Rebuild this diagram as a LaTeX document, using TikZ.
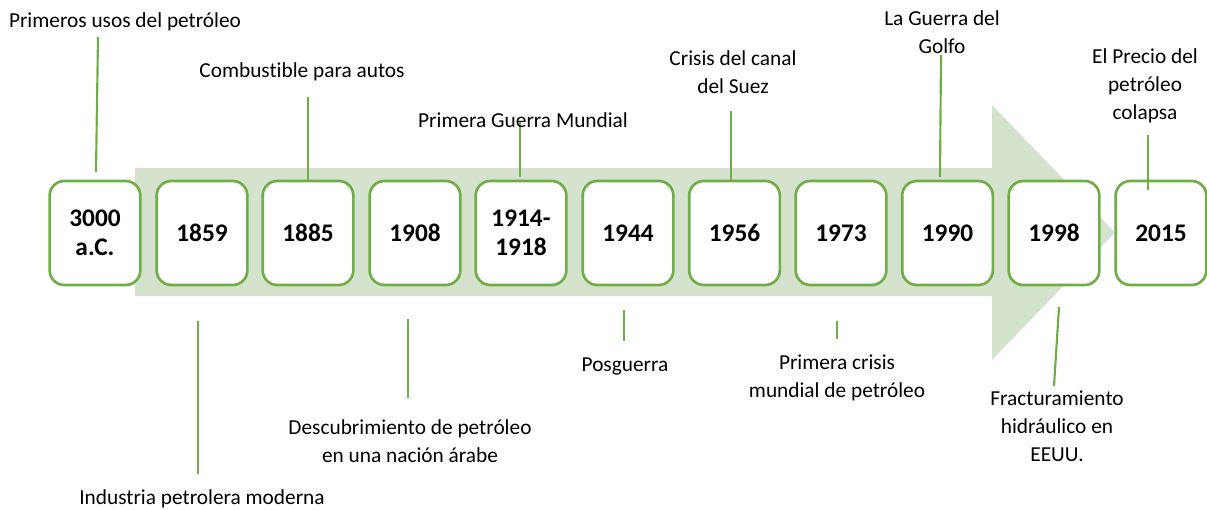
\documentclass[tikz,border=0pt]{standalone}
\usepackage{fontspec}
\setmainfont{Carlito}[Ligatures=NoCommon]

\definecolor{timeGreen}{RGB}{112,173,71}
\definecolor{arrowGreen}{RGB}{213,227,206}

\begin{document}
\begin{tikzpicture}[x=0.75pt, y=-0.75pt,
	yearBox/.style={draw=timeGreen, line width=2pt, fill=white, rounded corners=11pt, minimum width=68pt, minimum height=78pt, inner sep=0pt, align=center, font=\fontsize{19}{22}\selectfont\bfseries},
	event/.style={inner sep=0pt, align=center, font=\fontsize{16}{21}\selectfont},
	eventLine/.style={timeGreen, line width=1.6pt}]

	\useasboundingbox (0,0) rectangle (1207,510);

% Define coordinates.

	%arrow
	\coordinate (arrowTail) at (135,168);
	\coordinate (arrowNeck) at (992,168);
	\coordinate (headTop) at (992,105);
	\coordinate (arrowTip) at (1115,232.5);
	\coordinate (headBottom) at (992,360);
	
	%lines above
	\coordinate (usosTop) at (98,37);
	\coordinate (usosFoot) at (96,172);
	\coordinate (autosTop) at (308,97);
	\coordinate (autosFoot) at (308,181);
	\coordinate (guerraTop) at (520,122);
	\coordinate (guerraFoot) at (520,177);
	\coordinate (suezTop) at (731,111);
	\coordinate (suezFoot) at (731,181);
	\coordinate (golfoTop) at (941,55);
	\coordinate (golfoFoot) at (940,177);
	\coordinate (colapsoTop) at (1148,135);
	\coordinate (colapsoFoot) at (1148,190);
	
	%lines below
	\coordinate (industriaTop) at (198,321);
	\coordinate (industriaFoot) at (198,474);
	\coordinate (arabeTop) at (408,319);
	\coordinate (arabeFoot) at (408,398);
	\coordinate (posguerraTop) at (624,310);
	\coordinate (posguerraFoot) at (624,341);
	\coordinate (crisisTop) at (837,321);
	\coordinate (crisisFoot) at (837,339);
	\coordinate (fracturaTop) at (1059,307);
	\coordinate (fracturaFoot) at (1054,386);

% Colour in.

	\fill[arrowGreen] (arrowTail) -- (arrowNeck) -- (headTop) -- (arrowTip) -- (headBottom) -- (992,296) -- (135,296) -- cycle;

% Draw years.

	\node[yearBox] (y3000) at (95,233) {3000\\a.C.};
	\node[yearBox] (y1859) at (202,233) {1859};
	\node[yearBox] (y1885) at (308,233) {1885};
	\node[yearBox] (y1908) at (415,233) {1908};
	\node[yearBox] (y1914) at (521,233) {1914-\\1918};
	\node[yearBox] (y1944) at (628,233) {1944};
	\node[yearBox] (y1956) at (734.5,233) {1956};
	\node[yearBox] (y1973) at (841,233) {1973};
	\node[yearBox] (y1990) at (947.5,233) {1990};
	\node[yearBox] (y1998) at (1054,233) {1998};
	\node[yearBox] (y2015) at (1161,233) {2015};

% Draw lines.

	\draw[eventLine] (usosTop) -- (usosFoot);
	\draw[eventLine] (autosTop) -- (autosFoot);
	\draw[eventLine] (guerraTop) -- (guerraFoot);
	\draw[eventLine] (suezTop) -- (suezFoot);
	\draw[eventLine] (golfoTop) -- (golfoFoot);
	\draw[eventLine] (colapsoTop) -- (colapsoFoot);
	
	\draw[eventLine] (industriaTop) -- (industriaFoot);
	\draw[eventLine] (arabeTop) -- (arabeFoot);
	\draw[eventLine] (posguerraTop) -- (posguerraFoot);
	\draw[eventLine] (crisisTop) -- (crisisFoot);
	\draw[eventLine] (fracturaTop) -- (fracturaFoot);

% Draw event labels.

	\node[event] (usos) at (125,22) {Primeros usos del petróleo};
	\node[event] (autos) at (302,72) {Combustible para autos};
	\node[event] (guerra) at (523,120) {Primera Guerra Mundial};
	\node[event] (suez) at (733,72) {Crisis del canal\\del Suez};
	\node[event] (golfo) at (942,32) {La Guerra del\\Golfo};
	\node[event] (colapso) at (1145,86) {El Precio del\\petróleo\\colapsa};
	
	\node[event] (industria) at (202,499) {Industria petrolera moderna};
	\node[event] (arabe) at (410,441) {Descubrimiento de petróleo\\en una nación árabe};
	\node[event] (posguerra) at (625,366) {Posguerra};
	\node[event] (crisis) at (837,378) {Primera crisis\\mundial de petróleo};
	\node[event] (fractura) at (1057,426) {Fracturamiento\\hidráulico en\\EEUU.};

\end{tikzpicture}
\end{document}
